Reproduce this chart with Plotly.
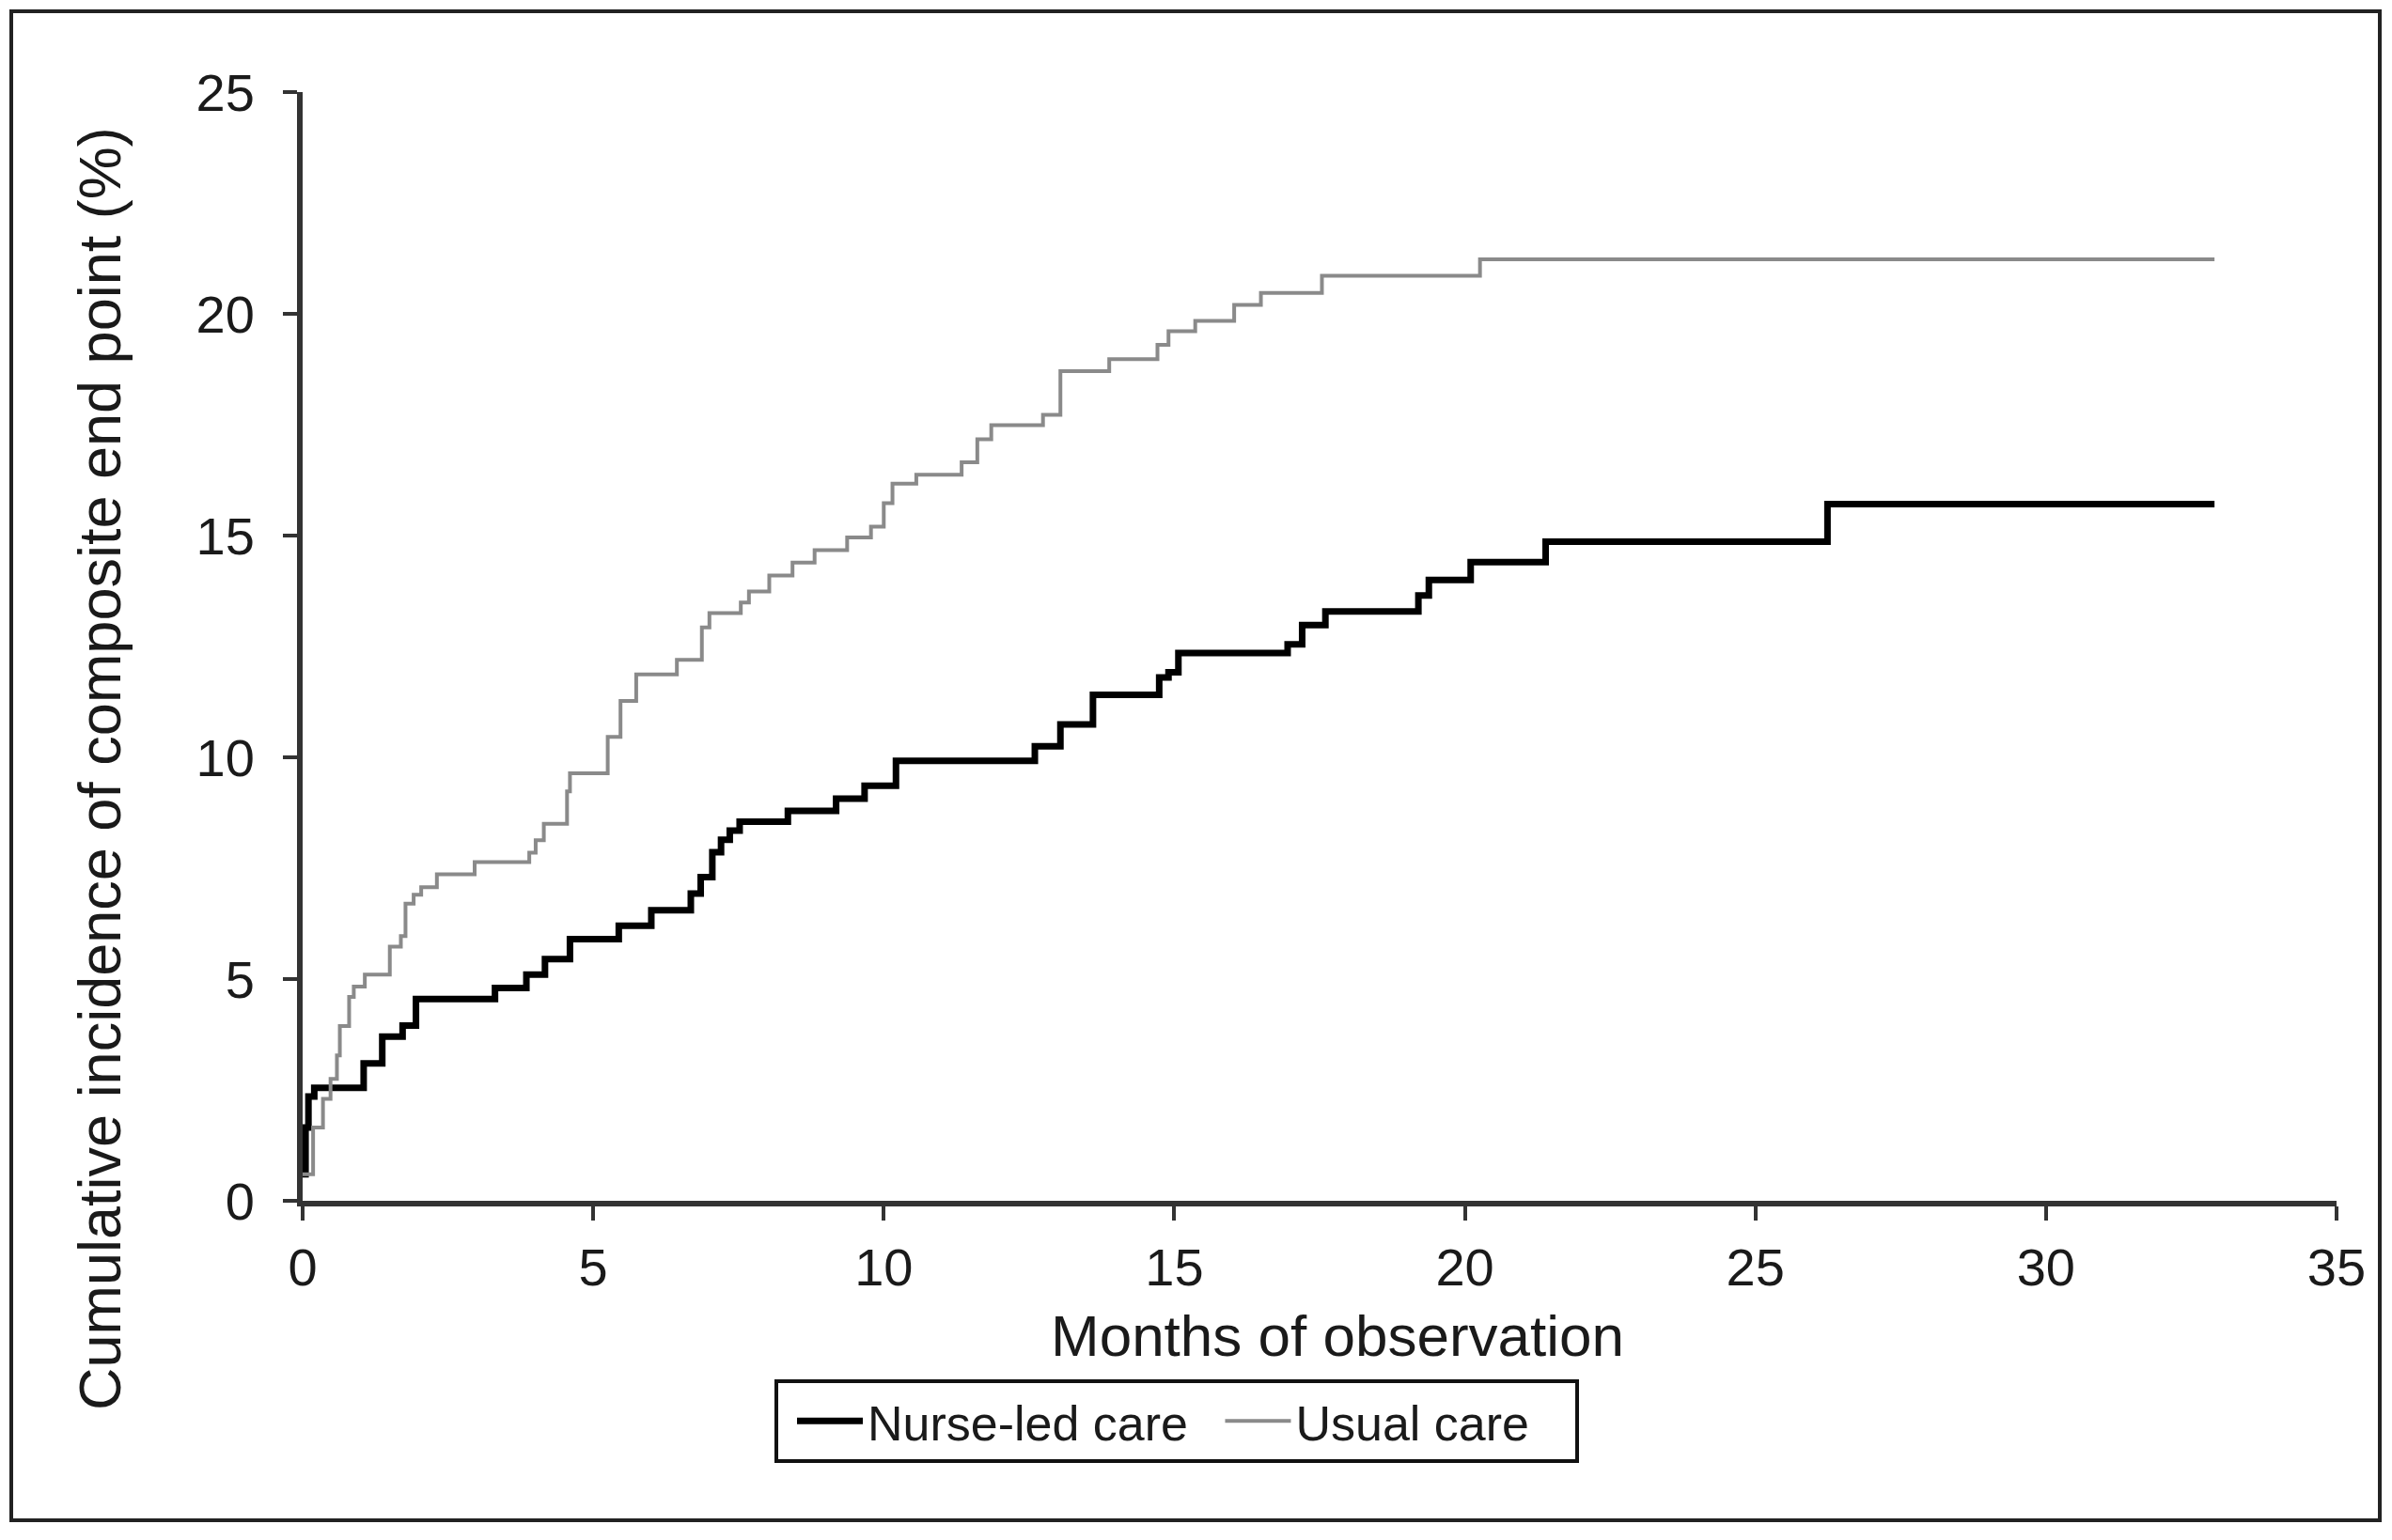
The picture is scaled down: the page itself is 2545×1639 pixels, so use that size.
import plotly.graph_objects as go

# Nurse-led care: step events (month, cumulative incidence %)
nurse_months = [0, 0.05, 0.1, 0.2, 1.05, 1.37, 1.72, 1.95, 3.31, 3.85, 4.17, 4.6, 5.44, 6.0,
                6.68, 6.85, 7.05, 7.2, 7.35, 7.52, 8.35, 9.18, 9.67, 10.21, 12.6, 13.04,
                13.6, 14.74, 14.9, 15.07, 16.95, 17.2, 17.6, 19.2, 19.38, 20.1, 21.39,
                26.24, 32.9]
nurse_values = [0.6, 1.65, 2.35, 2.55, 3.1, 3.7, 3.95, 4.55, 4.8, 5.1, 5.45, 5.9, 6.2, 6.55,
                6.93, 7.3, 7.86, 8.14, 8.35, 8.55, 8.79, 9.07, 9.36, 9.92, 10.25, 10.74,
                11.41, 11.8, 11.92, 12.35, 12.55, 12.98, 13.29, 13.65, 14.0, 14.4, 14.86,
                15.71, 15.71]

# Usual care
usual_months = [0, 0.18, 0.35, 0.48, 0.59, 0.64, 0.80, 0.88, 1.07, 1.50, 1.69, 1.77, 1.91,
                2.04, 2.31, 2.96, 3.9, 4.01, 4.15, 4.55, 4.6, 5.25, 5.47, 5.74, 6.44, 6.87,
                7.0, 7.54, 7.68, 8.03, 8.43, 8.81, 9.37, 9.78, 10.0, 10.15, 10.56, 11.34,
                11.61, 11.85, 12.74, 13.04, 13.88, 14.71, 14.9, 15.36, 16.03, 16.49, 17.54,
                20.26, 32.9]
usual_values = [0.6, 1.65, 2.3, 2.75, 3.28, 3.94, 4.6, 4.83, 5.1, 5.73, 5.97, 6.7, 6.9,
                7.07, 7.36, 7.64, 7.85, 8.13, 8.5, 9.23, 9.64, 10.46, 11.27, 11.87, 12.2, 12.93,
                13.25, 13.49, 13.74, 14.1, 14.39, 14.67, 14.96, 15.2, 15.73, 16.17, 16.37, 16.65,
                17.17, 17.49, 17.72, 18.71, 18.98, 19.3, 19.61, 19.84, 20.2, 20.47, 20.86,
                21.23, 21.23]

x_ticks = [0, 5, 10, 15, 20, 25, 30, 35]
y_ticks = [0, 5, 10, 15, 20, 25]

FONT = "Liberation Sans, Arial, sans-serif"
W, H = 2545, 1639
L, R, T, B = 322, 59, 98, 361
pw, ph = W - L - R, H - T - B

def px_x(p):
    return (p - L) / pw

def px_y(p):
    return (H - B - p) / ph

fig = go.Figure()
fig.add_trace(go.Scatter(x=nurse_months, y=nurse_values, mode="lines", line_shape="hv",
                         name="Nurse-led care\u00a0", line=dict(color="#000000", width=7)))
fig.add_trace(go.Scatter(x=usual_months, y=usual_values, mode="lines", line_shape="hv",
                         name="Usual care\u00a0\u00a0\u00a0", line=dict(color="#8a8a8a", width=4)))

axis_common = dict(showline=True, linecolor="#333333", linewidth=6, ticks="outside",
                   ticklen=15, tickwidth=4, tickcolor="#333333", showgrid=False,
                   zeroline=False, tickfont=dict(family=FONT, size=56, color="#1a1a1a"))

fig.update_xaxes(range=[0, 35], tickvals=x_ticks, ticklabelstandoff=2, **axis_common)
fig.update_yaxes(range=[0, 25], tickvals=y_ticks, ticklabelstandoff=19, **axis_common)

fig.add_annotation(text="Months of observation", xref="paper", yref="paper",
                   x=px_x(1423), y=px_y(1421), xanchor="center", yanchor="middle",
                   showarrow=False, font=dict(family=FONT, size=62, color="#1a1a1a"))

fig.add_annotation(text="Cumulative incidence of composite end point (%)",
                   textangle=-90, xref="paper", yref="paper",
                   x=px_x(106), y=px_y(818), xanchor="center", yanchor="middle",
                   showarrow=False, font=dict(family=FONT, size=63, color="#1a1a1a"))

fig.add_shape(type="rect", xref="paper", yref="paper",
              x0=px_x(12), x1=px_x(2532), y0=px_y(1618), y1=px_y(12),
              line=dict(color="#222222", width=4), layer="below")

fig.update_layout(
    width=W, height=H,
    margin=dict(l=L, r=R, t=T, b=B, autoexpand=False),
    paper_bgcolor="white", plot_bgcolor="white",
    font=dict(family=FONT, color="#1a1a1a"),
    legend=dict(orientation="h", x=px_x(824), xanchor="left", y=px_y(1468), yanchor="top",
                bordercolor="#111111", borderwidth=4, bgcolor="white", indentation=15,
                font=dict(family=FONT, size=52, color="#1a1a1a"), itemwidth=70),
    showlegend=True,
)

fig.write_html("out.html", config={"displayModeBar": False},
               post_script="document.body.style.margin='0px';")
